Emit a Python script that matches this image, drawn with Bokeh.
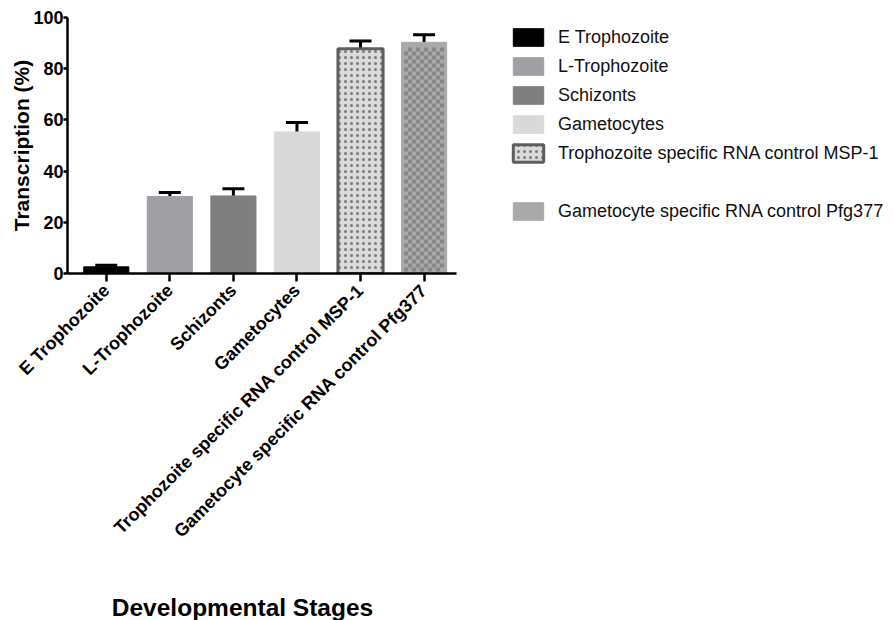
import math
from bokeh.plotting import figure
from bokeh.layouts import row, column
from bokeh.models import (ColumnDataSource, Range1d, FixedTicker, Whisker, TeeHead,
                          Legend, LegendItem, Label)
from bokeh.embed import file_html
from bokeh.resources import INLINE

# ---- data ----
stages = ["E Trophozoite", "L-Trophozoite", "Schizonts", "Gametocytes",
          "Trophozoite specific RNA control MSP-1",
          "Gametocyte specific RNA control Pfg377"]
values = [2.6, 30.1, 30.3, 55.3, 87.8, 90.3]
errors = [0.6, 1.5, 2.8, 3.7, 3.0, 3.0]
y_ticks = [0, 20, 40, 60, 80, 100]
x_title = "Developmental Stages"
y_title = "Transcription (%)"

# ---- layout / styles ----
FONT = "Liberation Sans"
W, H = 500, 560
LW = 394
SH = 60
BL, BT, BR, BB = 67, 17, 44, 287
X0, X1 = 0.39, 6.51
Y0, Y1 = 0, 100
BAR_W = 0.71
styles = [
    dict(fill_color="#000000", line_color="#000000", line_width=1),
    dict(fill_color="#a0a0a4", line_color="#a0a0a4", line_width=1),
    dict(fill_color="#7f7f7f", line_color="#7f7f7f", line_width=1),
    dict(fill_color="#d9d9d9", line_color="#d9d9d9", line_width=1),
    dict(fill_color="#dadada", line_color="#5e5e5e", line_width=3,
         hatch_pattern="dot", hatch_color="#7a7a7a", hatch_scale=6, hatch_weight=1),
    dict(fill_color="#a9a9a9", line_color="#a9a9a9", line_width=1),
]
CHECK_COLOR = "#878787"
CELL_PX = 4
INSET_PX = 2

xs = list(range(1, len(stages) + 1))

p = figure(width=W, height=H, output_backend="svg", toolbar_location=None,
           x_range=Range1d(X0, X1), y_range=Range1d(Y0, Y1),
           min_border_left=BL, min_border_top=BT, min_border_right=BR,
           min_border_bottom=BB)
p.outline_line_color = None
p.xgrid.visible = False
p.ygrid.visible = False
p.background_fill_color = "white"

for i, st in enumerate(styles):
    p.vbar(x=[xs[i]], top=[values[i]], bottom=0, width=BAR_W, **st)

# checkerboard texture over the last bar (derived from its value)
px_x = (W - BL - BR) / (X1 - X0)
px_y = (H - BT - BB) / (Y1 - Y0)
k = 5
ncols = int((BAR_W * px_x - 2 * INSET_PX) / CELL_PX)
nrows = int((values[k] * px_y - 2 * INSET_PX) / CELL_PX)
dx, dy = CELL_PX / px_x, CELL_PX / px_y
left = xs[k] - ncols * dx / 2
bottom = INSET_PX / px_y
cx, cy = [], []
for rr in range(nrows):
    for cc in range(ncols):
        if (rr + cc) % 2 == 0:
            cx.append(left + (cc + 0.5) * dx)
            cy.append(bottom + (rr + 0.5) * dy)
p.rect(x=cx, y=cy, width=dx, height=dy, fill_color=CHECK_COLOR, line_color=None)

src = ColumnDataSource(dict(x=xs, top=values,
                            upper=[v + e for v, e in zip(values, errors)]))
wh = Whisker(source=src, base="x", lower="top", upper="upper", dimension="height",
             line_width=3, line_color="black",
             upper_head=TeeHead(size=22, line_width=3, line_color="black"),
             lower_head=None)
p.add_layout(wh)

# axes
p.xaxis.ticker = FixedTicker(ticks=xs)
p.xaxis.major_label_overrides = {x: s for x, s in zip(xs, stages)}
p.xaxis.major_label_orientation = math.pi / 4
p.yaxis.ticker = FixedTicker(ticks=y_ticks)
for ax in (p.xaxis[0], p.yaxis[0]):
    ax.axis_line_width = 2.5
    ax.axis_line_color = "black"
    ax.major_tick_line_width = 2.5
    ax.major_tick_line_color = "black"
    ax.major_tick_in = 0
    ax.minor_tick_line_color = None
    ax.major_label_text_font = FONT
    ax.major_label_text_font_style = "bold"
    ax.major_label_text_font_size = "18px"
    ax.major_label_text_color = "black"
p.xaxis.major_tick_out = 8
p.xaxis.major_label_standoff = 6
p.yaxis.major_tick_out = 4
p.yaxis.major_label_standoff = 0
p.yaxis.axis_label = y_title
p.yaxis.axis_label_text_font = FONT
p.yaxis.axis_label_text_font_style = "bold"
p.yaxis.axis_label_text_font_size = "21px"
p.yaxis.axis_label_text_color = "black"
p.yaxis.axis_label_standoff = -3

# ---- legend panel ----
q = figure(width=LW, height=H, output_backend="svg", toolbar_location=None,
           x_range=Range1d(0, 1), y_range=Range1d(0, 1),
           x_axis_location=None, y_axis_location=None,
           min_border_left=0, min_border_right=0, min_border_top=10,
           min_border_bottom=0)
q.outline_line_color = None
q.xgrid.visible = False
q.ygrid.visible = False
items = []
for i, st in enumerate(styles):
    # zero-size swatch renderers: only their legend glyph is visible
    r = q.vbar(x=[0.5], top=[0.5], bottom=[0.5], width=0, **st)
    items.append(LegendItem(label=stages[i], renderers=[r]))
    if i == 4:
        spacer = q.vbar(x=[0.5], top=[0.5], bottom=[0.5], width=0,
                        fill_alpha=0, line_alpha=0)
        items.append(LegendItem(label=" ", renderers=[spacer]))

legend = Legend(items=items, location="top_left", orientation="vertical",
                glyph_width=38, glyph_height=22, label_height=17, spacing=7,
                label_standoff=11, padding=0, margin=9,
                border_line_color=None, background_fill_alpha=0,
                label_text_font=FONT, label_text_font_size="18px",
                label_text_color="#111111")
q.add_layout(legend)

# ---- bottom strip carrying the x-axis title ----
s = figure(width=W + LW, height=SH, output_backend="svg", toolbar_location=None,
           x_range=Range1d(0, W + LW), y_range=Range1d(0, SH),
           x_axis_location=None, y_axis_location=None, min_border=0)
s.outline_line_color = None
s.xgrid.visible = False
s.ygrid.visible = False
s.add_layout(Label(x=242, y=13, x_units="screen", y_units="screen", text=x_title,
                   text_align="center", text_baseline="alphabetic",
                   text_font=FONT, text_font_style="bold", text_font_size="24.5px",
                   text_color="black"))

layout = column(row(p, q, spacing=0), s, spacing=0)
open("out.html", "w").write(file_html(layout, INLINE))
